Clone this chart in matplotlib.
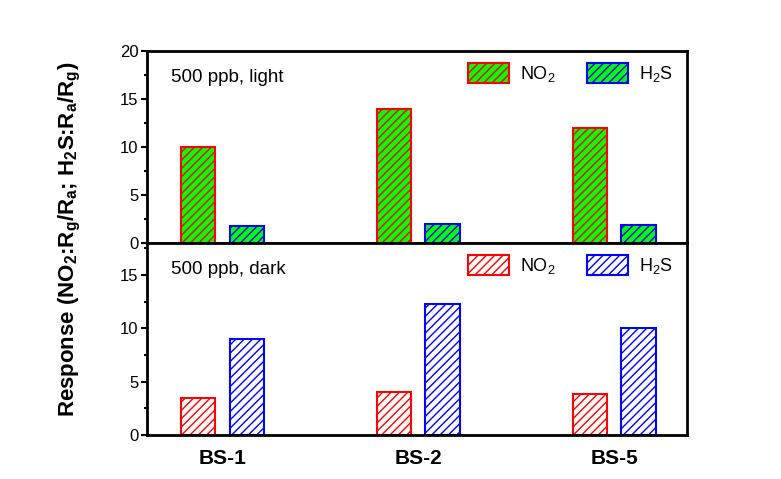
import matplotlib
matplotlib.use('Agg')
import matplotlib.pyplot as plt
import numpy as np
from matplotlib.ticker import MultipleLocator

plt.rcParams['font.family'] = ['Liberation Sans', 'DejaVu Sans']
plt.rcParams['mathtext.fontset'] = 'custom'
plt.rcParams['mathtext.rm'] = 'Liberation Sans'
plt.rcParams['mathtext.it'] = 'Liberation Sans:italic'
plt.rcParams['mathtext.bf'] = 'Liberation Sans:bold'
plt.rcParams['hatch.linewidth'] = 1.0

# sample names and responses at 500 ppb
samples = ['BS-1', 'BS-2', 'BS-5']
light_no2 = [10.0, 14.0, 12.0]
light_h2s = [1.8, 2.0, 1.9]
dark_no2 = [3.5, 4.0, 3.8]
dark_h2s = [9.0, 12.3, 10.0]

x = np.arange(1, len(samples) + 1)
w = 0.176
off = 0.124

fig = plt.figure(figsize=(7.81, 4.79), dpi=100)
ax1 = fig.add_axes([0.188, 0.4927, 0.692, 0.4008])
ax2 = fig.add_axes([0.188, 0.0919, 0.692, 0.4008])

# light: green fill, hatch follows edge colour
ax1.bar(x - off, light_no2, w, color='#00ff00', edgecolor='red', hatch='////',
        linewidth=1.5, label='NO$_2$')
ax1.bar(x + off, light_h2s, w, color='#00ff00', edgecolor='blue', hatch='////',
        linewidth=1.5, label='H$_2$S')
# dark: open bars
ax2.bar(x - off, dark_no2, w, color='white', edgecolor='red', hatch='////',
        linewidth=1.5, label='NO$_2$')
ax2.bar(x + off, dark_h2s, w, color='white', edgecolor='blue', hatch='////',
        linewidth=1.5, label='H$_2$S')

ax1.set_ylim(0, 20)
ax2.set_ylim(0, 18)
for ax in (ax1, ax2):
    ax.set_xlim(0.614, 3.372)
    ax.yaxis.set_major_locator(MultipleLocator(5))
    ax.yaxis.set_minor_locator(MultipleLocator(2.5))
    ax.tick_params(axis='y', which='major', direction='out', length=4, width=1.5,
                   labelsize=12, pad=2)
    ax.tick_params(axis='y', which='minor', direction='out', length=2.5, width=1.5)
    for s in ax.spines.values():
        s.set_linewidth(2)
    ax.legend(ncol=2, frameon=False, loc='upper left', bbox_to_anchor=(0.594, 0.94),
              fontsize=13, handlelength=2.3, handleheight=1.4, handletextpad=0.6,
              columnspacing=1.7, borderpad=0, borderaxespad=0)

ax1.set_xticks(x)
ax1.tick_params(axis='x', which='both', length=0, labelbottom=False)
ax2.set_xticks(x)
ax2.set_xticklabels(samples, fontsize=15, fontweight='bold')
ax2.tick_params(axis='x', which='both', length=0, pad=10)

ax1.text(0.045, 0.86, '500 ppb, light', transform=ax1.transAxes, fontsize=13.5,
         va='center', ha='left')
ax2.text(0.045, 0.86, '500 ppb, dark', transform=ax2.transAxes, fontsize=13.5,
         va='center', ha='left')

fig.text(0.09, 0.5, r'Response (NO$_\mathbf{2}$:R$_\mathbf{g}$/R$_\mathbf{a}$; '
         r'H$_\mathbf{2}$S:R$_\mathbf{a}$/R$_\mathbf{g}$)',
         rotation=90, ha='center', va='center', fontsize=16, fontweight='bold')

fig.savefig('out.png', dpi=100)
